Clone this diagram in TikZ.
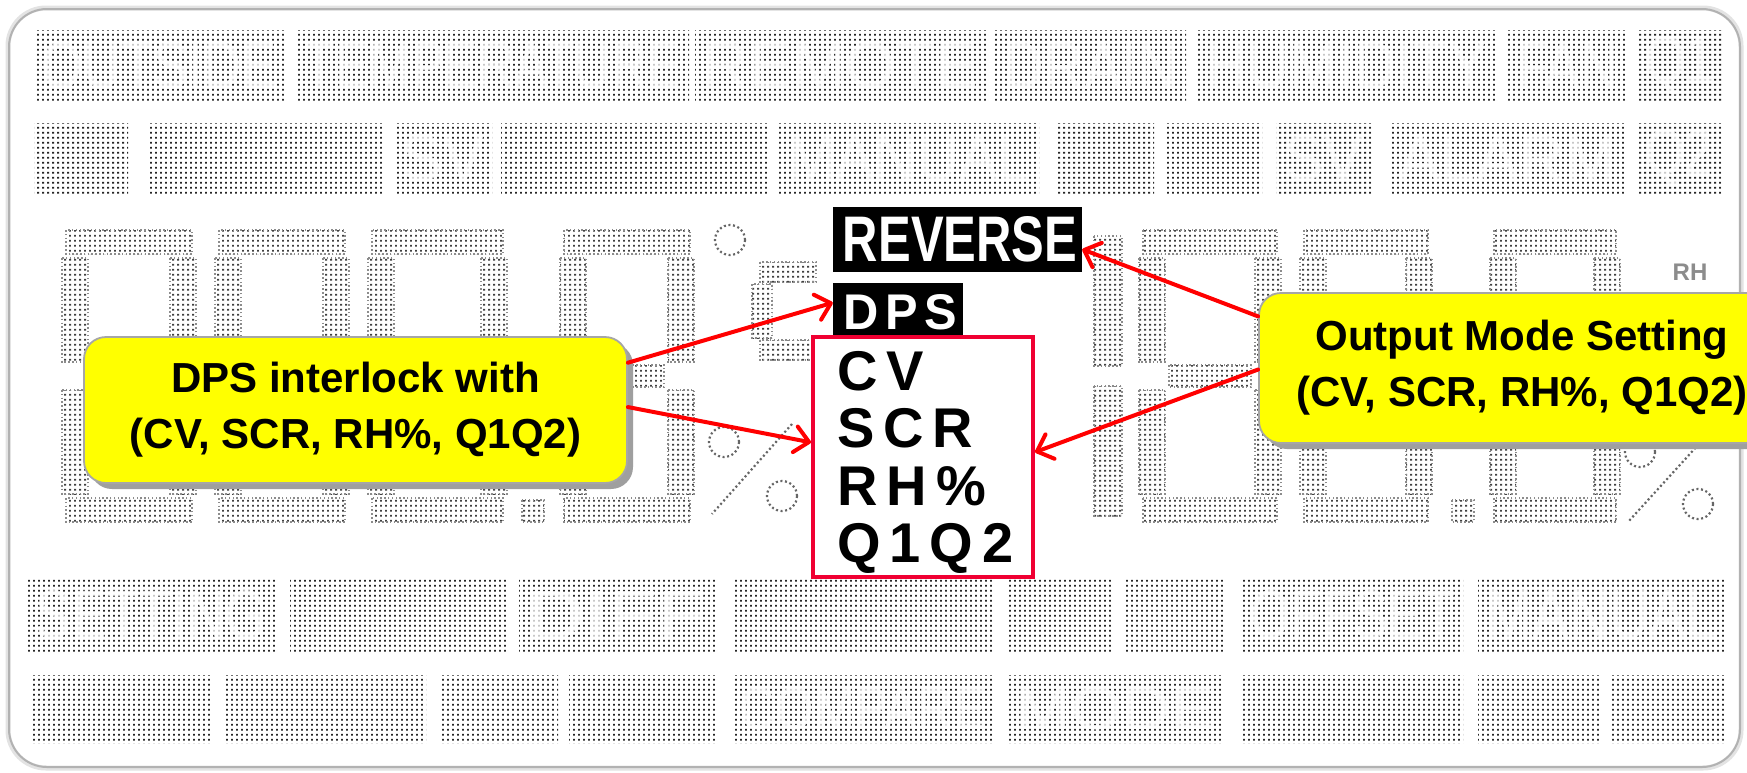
\documentclass[tikz,border=0pt]{standalone}
\usepackage{graphicx}
\usepackage{fontspec}
\setmainfont{Liberation Sans}
\usetikzlibrary{arrows.meta,patterns.meta,shadows,calc}
\definecolor{lcdred}{RGB}{240,0,50}
\definecolor{calloutyellow}{RGB}{255,255,0}

\tikzdeclarepattern{
  name=lcd, type=uncolored,
  bounding box={(0pt,0pt) and (4.5pt,5.2pt)},
  tile size={(4.5pt,5.2pt)},
  code={\fill (1.2pt,1.5pt) rectangle (3.3pt,3.6pt);}
}

\newcommand\ks{\kern9pt}

\newcommand\lcdblk[5]{%
  \fill[pattern=lcd, pattern color=black!85] (#1,#3) rectangle (#2,#4);
  \if\relax\detokenize{#5}\relax\else
    \pgfmathsetmacro\lcdw{#2-#1-16}%
    \pgfmathsetmacro\lcdh{#4-#3-26}%
    \node[lcdtext] (b#1x#3) at ({(#1+#2)/2},{(#3+#4)/2}) {\resizebox{\lcdw pt}{\lcdh pt}{#5}};
  \fi
}

\newcommand\digit[4]{% x0 x1 y0 y1
  \pgfmathsetmacro\dm{(#3+#4)/2}%
  \path[seg] (#1+4,#3) rectangle (#2-4,#3+24);
  \path[seg] (#2-26,#3+28) rectangle (#2,\dm-14);
  \path[seg] (#2-26,\dm+14) rectangle (#2,#4-28);
  \path[seg] (#1+4,#4-24) rectangle (#2-4,#4);
  \path[seg] (#1,\dm+14) rectangle (#1+26,#4-28);
  \path[seg] (#1,#3+28) rectangle (#1+26,\dm-14);
  \path[seg] (#1+30,\dm-11) rectangle (#2-30,\dm+11);
}

\begin{document}
\begin{tikzpicture}[x=1pt,y=-1pt,
  lcdtext/.style={inner sep=0pt, text=white, text opacity=0.75},
  seg/.style={pattern=lcd, pattern color=black!75, draw=black!45, line width=1.2pt, dash pattern=on 1.5pt off 2.3pt},
  dotline/.style={draw=black!60, line width=2.2pt, dash pattern=on 2pt off 2.6pt},
  callout/.style={draw=gray!70, line width=1.8pt, fill=calloutyellow, rounded corners=22pt,
    drop shadow={shadow xshift=6pt, shadow yshift=-6pt, fill=gray!75, opacity=1},
    align=center, inner sep=0pt, font=\fontsize{42}{56}\selectfont\bfseries},
  redarrow/.style={draw=red, line width=4pt, line cap=round,
    -{Straight Barb[length=14pt,width=26pt,line width=4pt,round]}},
  invbox/.style={fill=black, inner sep=0pt},
  modetext/.style={anchor=base west, inner sep=0pt, font=\fontsize{56}{56}\selectfont\bfseries},
]
\useasboundingbox (0,0) rectangle (1747,772);
\fill[white] (0,0) rectangle (1747,772);

% frame
\draw[line width=5pt, gray!22, rounded corners=38pt] (8,8) rectangle (1741,768);
\draw[line width=2pt, gray!60, rounded corners=38pt] (9,9) rectangle (1740,767);

% row 1
\lcdblk{34}{285}{30}{102}{OUTSIDE}
\lcdblk{297}{689}{30}{102}{TEMPERATURE}
\lcdblk{695}{986}{30}{102}{REMOTE}
\lcdblk{995}{1186}{30}{102}{DRAIN}
\lcdblk{1198}{1495}{30}{102}{HUMIDITY}
\lcdblk{1508}{1626}{30}{102}{FAN}
\lcdblk{1637}{1723}{30}{102}{Q1}
% row 2
\lcdblk{34}{128}{123}{194}{}
\lcdblk{147}{383}{123}{194}{}
\lcdblk{394}{492}{123}{194}{SV}
\lcdblk{501}{767}{123}{194}{}
\lcdblk{779}{1039}{123}{194}{MANUAL}
\lcdblk{1058}{1154}{123}{194}{}
\lcdblk{1165}{1262}{123}{194}{}
\lcdblk{1276}{1371}{123}{194}{SV}
\lcdblk{1390}{1626}{123}{194}{ALARM}
\lcdblk{1637}{1721}{123}{194}{Q2}
% row 3
\lcdblk{28}{275}{578}{652}{SETTING}
\lcdblk{290}{506}{578}{652}{}
\lcdblk{519}{715}{578}{652}{DIFF}
\lcdblk{732}{994}{578}{652}{}
\lcdblk{1007}{1111}{578}{652}{}
\lcdblk{1126}{1225}{578}{652}{}
\lcdblk{1242}{1463}{578}{652}{OFFSET}
\lcdblk{1478}{1725}{578}{652}{MANUAL}
% row 4
\lcdblk{30}{212}{675}{743}{}
\lcdblk{225}{426}{675}{743}{}
\lcdblk{439}{558}{675}{743}{}
\lcdblk{569}{717}{675}{743}{}
\lcdblk{732}{994}{675}{743}{COMPARE}
\lcdblk{1007}{1223}{675}{743}{MODE}
\lcdblk{1242}{1463}{675}{743}{}
\lcdblk{1478}{1599}{675}{743}{}
\lcdblk{1612}{1725}{675}{743}{}

% big digits left
\digit{62}{196}{230}{522}
\digit{215}{349}{230}{522}
\digit{368}{507}{230}{522}
\path[seg] (522,500) rectangle (544,522);
\digit{560}{694}{230}{522}
\draw[dotline] (730,240) circle (15);
\path[seg] (760,262) rectangle (816,282);
\path[seg] (752,284) rectangle (772,338);
\path[seg] (760,340) rectangle (816,360);
\draw[dotline] (724,442) circle (15);
\draw[dotline] (782,496) circle (15);
\draw[dotline] (792,424) -- (712,514);

% big digits right
\path[seg] (1094,236) rectangle (1122,366);
\path[seg] (1094,386) rectangle (1122,516);
\digit{1139}{1281}{230}{522}
\digit{1300}{1432}{230}{522}
\path[seg] (1452,500) rectangle (1474,522);
\digit{1490}{1620}{230}{522}
\draw[dotline] (1640,452) circle (15);
\draw[dotline] (1698,504) circle (15);
\draw[dotline] (1708,434) -- (1628,522);
\node[inner sep=0pt, text=black!45, font=\fontsize{24}{24}\selectfont\bfseries] (rh) at (1690,272) {RH};

% REVERSE / DPS
\node[invbox, minimum width=249pt, minimum height=65pt] (rev) at (957.5,239.5) {};
\node[text=white, inner sep=0pt] (revtxt) at (960,239.5) {\resizebox{234pt}{45pt}{\bfseries REVERSE}};
\node[invbox, minimum width=130pt, minimum height=52pt] (dps) at (898,309) {};
\node[text=white, inner sep=0pt] (dpstxt) at (900,312.5) {\resizebox{114pt}{35pt}{\bfseries D\kern0.14em P\kern0.14em S}};

% red box with modes
\node[draw=lcdred, fill=white, line width=4pt, minimum width=220pt, minimum height=240pt, inner sep=0pt] (modes) at (923,457) {};
\node[modetext] (cv) at (837,390) {C\ks V};
\node[modetext] (scr) at (837,447) {S\ks C\ks R};
\node[modetext] (rhp) at (837,505) {R\ks H\ks\%};
\node[modetext] (q1q2) at (837,562) {Q\ks 1\ks Q\ks 2};

% callouts
\node[callout, minimum width=543pt, minimum height=146pt] (callL) at (355.5,410) {DPS interlock with\\(CV, SCR, RH\%, Q1Q2)};
\node[callout, minimum width=526pt, minimum height=150pt] (callR) at (1522,368) {Output Mode Setting\\(CV, SCR, RH\%, Q1Q2)};

% arrows
\draw[redarrow] ($(callL.north east)!0.18!(callL.south east)$) -- ($(dps.north west)!0.38!(dps.south west)$);
\draw[redarrow] ($(callL.north east)!0.48!(callL.south east)$) -- ($(modes.north west)!0.44!(modes.south west)$);
\draw[redarrow] ($(callR.north west)!0.16!(callR.south west)$) -- ($(rev.north east)!0.65!(rev.south east)$);
\draw[redarrow] ($(callR.north west)!0.51!(callR.south west)$) -- ($(modes.north east)!0.48!(modes.south east)$);
\end{tikzpicture}
\end{document}
